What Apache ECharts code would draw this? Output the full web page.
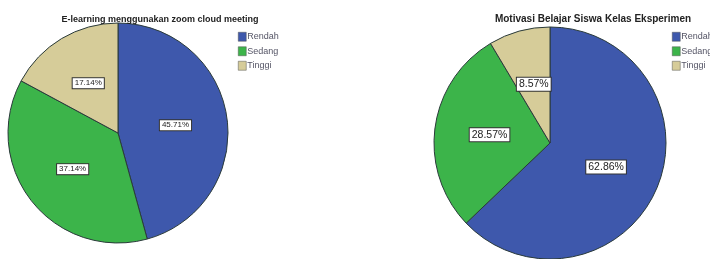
<!DOCTYPE html>
<html>
<head>
<meta charset="utf-8">
<script src="https://cdn.jsdelivr.net/npm/echarts@6/dist/echarts.min.js"></script>
<style>
  html, body { margin: 0; padding: 0; background: #fff; }
  #chart { width: 710px; height: 259px; }
</style>
</head>
<body>
<div id="chart"></div>
<script>
const categories = ['Rendah', 'Sedang', 'Tinggi'];
const elearningValues = [45.71, 37.14, 17.14];
const motivasiValues = [62.86, 28.57, 8.57];
const titles = ['E-learning menggunakan zoom cloud meeting', 'Motivasi Belajar Siswa Kelas Eksperimen'];
const colors = ['#3e58ac', '#3cb44a', '#d6cc99'];

function toData(values) {
  return categories.map((name, i) => ({ name: name, value: values[i] }));
}

const labelStyle = {
  show: true,
  position: 'inside',
  formatter: p => p.value.toFixed(2) + '%',
  color: '#222',
  fontSize: 8,
  fontFamily: 'Liberation Sans',
  backgroundColor: '#fff',
  borderColor: '#333',
  borderWidth: 1,
  padding: [1, 2]
};

const legendBase = {
  data: categories, orient: 'vertical', top: 27,
  itemWidth: 8, itemHeight: 9, itemGap: 5, icon: 'rect',
  itemStyle: { borderColor: '#555', borderWidth: 0.5 },
  textStyle: { fontSize: 9, color: '#556', padding: [0, 0, 0, -4], fontFamily: 'Liberation Sans' }
};

const chart = echarts.init(document.getElementById('chart'));
chart.setOption({
  color: colors,
  animation: false,
  title: [
    {
      text: titles[0], left: 155, top: 10, textAlign: 'center',
      textStyle: { fontSize: 9, fontWeight: 'bold', color: '#222', fontFamily: 'Liberation Sans' }
    },
    {
      text: titles[1], left: 588, top: 9, textAlign: 'center',
      textStyle: { fontSize: 10, fontWeight: 'bold', color: '#222', fontFamily: 'Liberation Sans' }
    }
  ],
  legend: [
    Object.assign({}, legendBase, { left: 233 }),
    Object.assign({}, legendBase, { left: 667 })
  ],
  series: [
    {
      type: 'pie',
      center: [118, 133],
      radius: 110,
      startAngle: 90,
      clockwise: true,
      data: toData(elearningValues),
      itemStyle: { borderColor: '#2a3a3a', borderWidth: 1 },
      label: labelStyle,
      labelLine: { show: false },
      emphasis: { disabled: true }
    },
    {
      type: 'pie',
      center: [550, 143],
      radius: 116,
      startAngle: 90,
      clockwise: true,
      data: toData(motivasiValues),
      itemStyle: { borderColor: '#2a3a3a', borderWidth: 1 },
      label: Object.assign({}, labelStyle, { fontSize: 10.5 }),
      labelLine: { show: false },
      emphasis: { disabled: true }
    }
  ]
});
</script>
</body>
</html>
